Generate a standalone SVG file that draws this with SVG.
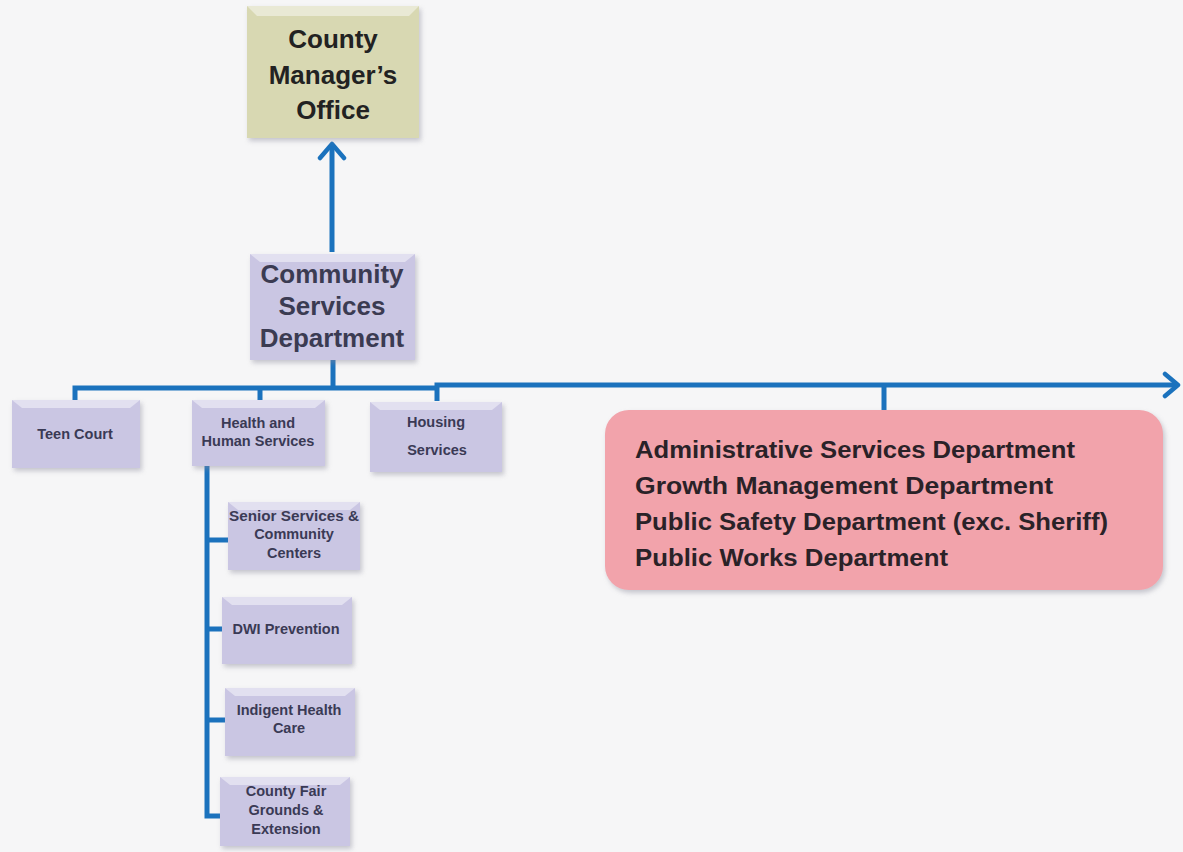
<svg xmlns="http://www.w3.org/2000/svg" width="1183" height="852" viewBox="0 0 1183 852">
<defs>
<filter id="sh" x="-10%" y="-10%" width="130%" height="140%">
<feDropShadow dx="2" dy="3" stdDeviation="2.5" flood-color="#8a8a99" flood-opacity="0.45"/>
</filter>
<marker id="ahR" markerWidth="20" markerHeight="28" refX="16" refY="14" orient="auto" markerUnits="userSpaceOnUse">
<path d="M3,3 L16,14 L3,25" fill="none" stroke="#1b72bd" stroke-width="4.5" stroke-linecap="round" stroke-linejoin="round"/>
</marker>
<marker id="ahU" markerWidth="30" markerHeight="20" refX="15" refY="3" orient="0" markerUnits="userSpaceOnUse">
<path d="M3,17 L15,3 L27,17" fill="none" stroke="#1b72bd" stroke-width="4.5" stroke-linecap="round" stroke-linejoin="round"/>
</marker>
<style>
.lav{fill:#cac6e3;filter:url(#sh);}
.hl{fill:#ffffff;opacity:0.45;}
.sm{font-family:"Liberation Sans",Arial,sans-serif;font-weight:bold;font-size:14.5px;fill:#3a3a55;text-anchor:middle;}
.big{font-family:"Liberation Sans",Arial,sans-serif;font-weight:bold;font-size:26px;fill:#222;text-anchor:middle;}
.adm{font-family:"Liberation Sans",Arial,sans-serif;font-weight:bold;font-size:23px;fill:#2a2228;}
.ln{stroke:#1b72bd;stroke-width:5;fill:none;stroke-linecap:butt;}
</style>
</defs>
<rect width="1183" height="852" fill="#f6f6f7"/>

<g id="connectors">
<line class="ln" x1="332" y1="252" x2="332" y2="144" marker-end="url(#ahU)"/>
<line class="ln" x1="333" y1="360" x2="333" y2="388"/>
<polyline class="ln" points="75,401 75,388 437,388"/>
<line class="ln" x1="260" y1="388" x2="260" y2="401"/>
<polyline class="ln" points="437,401 437,385 1178,385" marker-end="url(#ahR)"/>
<line class="ln" x1="884" y1="385" x2="884" y2="410"/>
<polyline class="ln" points="207,466 207,816 222,816"/>
<line class="ln" x1="207" y1="540" x2="229" y2="540"/>
<line class="ln" x1="207" y1="629" x2="223" y2="629"/>
<line class="ln" x1="207" y1="720" x2="226" y2="720"/>
</g>

<g id="county-manager">
<rect x="247" y="6" width="172" height="132" fill="#d8d8b2" filter="url(#sh)"/>
<polygon points="247,6 419,6 409,16 257,16" class="hl"/>
<text class="big" x="333" y="48">County</text>
<text class="big" x="333" y="84">Manager’s</text>
<text class="big" x="333" y="119">Office</text>
</g>

<g id="community-services">
<rect x="250" y="254" width="165" height="106" class="lav"/>
<polygon points="250,254 415,254 405,262 260,262" class="hl"/>
<text class="big" x="332" y="283" style="fill:#3b3b52">Community</text>
<text class="big" x="332" y="315" style="fill:#3b3b52">Services</text>
<text class="big" x="332" y="347" style="fill:#3b3b52">Department</text>
</g>

<g id="teen-court">
<rect x="12" y="400" width="128" height="68" class="lav"/>
<polygon points="12,400 140,400 130,408 22,408" class="hl"/>
<text class="sm" x="75" y="439">Teen Court</text>
</g>

<g id="health-human">
<rect x="192" y="400" width="133" height="66" class="lav"/>
<polygon points="192,400 325,400 315,408 202,408" class="hl"/>
<text class="sm" x="258" y="428">Health and</text>
<text class="sm" x="258" y="446">Human Services</text>
</g>

<g id="housing">
<rect x="370" y="402" width="132" height="70" class="lav"/>
<polygon points="370,402 502,402 492,410 380,410" class="hl"/>
<text class="sm" x="436" y="427">Housing</text>
<text class="sm" x="437" y="455">Services</text>
</g>

<g id="other-departments">
<rect x="605" y="410" width="558" height="180" rx="24" ry="24" fill="#f2a3ab" filter="url(#sh)"/>
<text class="adm" x="635" y="458" textLength="440" lengthAdjust="spacingAndGlyphs">Administrative Services Department</text>
<text class="adm" x="635" y="494" textLength="418" lengthAdjust="spacingAndGlyphs">Growth Management Department</text>
<text class="adm" x="635" y="530" textLength="473" lengthAdjust="spacingAndGlyphs">Public Safety Department (exc. Sheriff)</text>
<text class="adm" x="635" y="566" textLength="313" lengthAdjust="spacingAndGlyphs">Public Works Department</text>
</g>

<g id="senior-services">
<rect x="228" y="502" width="132" height="68" class="lav"/>
<polygon points="228,502 360,502 350,510 238,510" class="hl"/>
<text class="sm" x="294" y="521" textLength="130" lengthAdjust="spacingAndGlyphs">Senior Services &amp;</text>
<text class="sm" x="294" y="539">Community</text>
<text class="sm" x="294" y="558">Centers</text>
</g>

<g id="dwi-prevention">
<rect x="222" y="597" width="130" height="67" class="lav"/>
<polygon points="222,597 352,597 342,605 232,605" class="hl"/>
<text class="sm" x="286" y="634">DWI Prevention</text>
</g>

<g id="indigent-health">
<rect x="225" y="688" width="130" height="68" class="lav"/>
<polygon points="225,688 355,688 345,696 235,696" class="hl"/>
<text class="sm" x="289" y="715">Indigent Health</text>
<text class="sm" x="289" y="733">Care</text>
</g>

<g id="county-fair">
<rect x="220" y="777" width="130" height="69" class="lav"/>
<polygon points="220,777 350,777 340,785 230,785" class="hl"/>
<text class="sm" x="286" y="796">County Fair</text>
<text class="sm" x="286" y="815">Grounds &amp;</text>
<text class="sm" x="286" y="834">Extension</text>
</g>
</svg>
